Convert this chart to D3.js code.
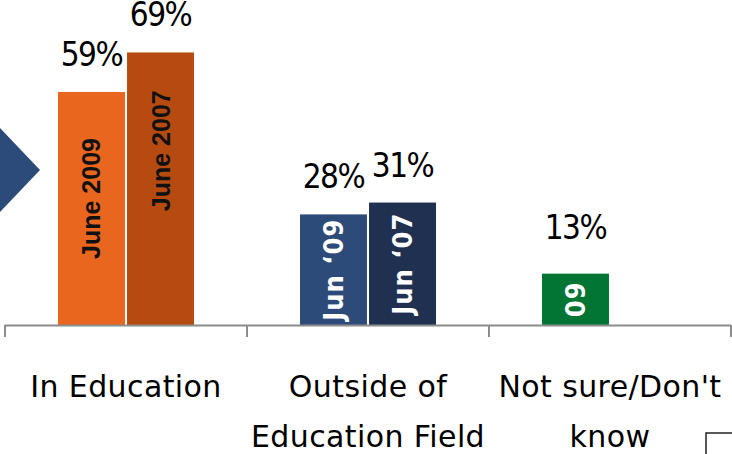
<!DOCTYPE html>
<html>
<head>
<meta charset="utf-8">
<script src="https://cdn.jsdelivr.net/npm/d3@7"></script>
<style>
  html, body { margin: 0; padding: 0; background: #fff; }
  svg { display: block; }
</style>
</head>
<body>
<svg id="chart" width="732" height="454"></svg>
<script>
// ---- data ----
const categories = ["In Education", "Outside of Education Field", "Not sure/Don't know"];
const categoryLines = [["In Education"], ["Outside of", "Education Field"], ["Not sure/Don't", "know"]];
const series = ["first", "second"];
const values2009 = [59, 28, 13];
const values2007 = [69, 31, null];
const barLabels2009 = ["June 2009", "Jun \u201809", "09"];
const barLabels2007 = ["June 2007", "Jun \u201807", null];
const valueLabels2009 = ["59%", "28%", "13%"];
const valueLabels2007 = ["69%", "31%", null];

// ---- styles ----
const fill2009 = ["#E9661F", "#2D4B79", "#027535"];
const fill2007 = ["#B64B11", "#1F3050", null];
const labelColor2009 = ["#111", "#fff", "#fff"];
const labelColor2007 = ["#111", "#fff", null];

const W = 732, H = 454;
const svg = d3.select("#chart");

// scales
const x0 = d3.scaleBand().domain(categories).range([5, 731]).padding(0);
const x1 = d3.scaleBand().domain(series).range([53, 189]).paddingInner(0.03).paddingOuter(0);
const y = d3.scaleLinear().domain([0, 100]).range([325, -70]);

// decoration: chevron on the left
svg.append("path")
  .attr("d", "M0,128 L40,170 L0,212 Z")
  .attr("fill", "#2C4B7B");

// bars
const bars = [];
categories.forEach((c, i) => {
  bars.push({cat: c, s: "first", v: values2009[i], fill: fill2009[i], label: barLabels2009[i], lc: labelColor2009[i], vl: valueLabels2009[i], i});
  if (values2007[i] != null)
    bars.push({cat: c, s: "second", v: values2007[i], fill: fill2007[i], label: barLabels2007[i], lc: labelColor2007[i], vl: valueLabels2007[i], i});
});

const g = svg.append("g");
g.selectAll("rect.bar").data(bars).join("rect")
  .attr("class", "bar")
  .attr("x", d => x0(d.cat) + x1(d.s))
  .attr("y", d => y(d.v))
  .attr("width", x1.bandwidth())
  .attr("height", d => y(0) - y(d.v))
  .attr("fill", d => d.fill);

// inside (rotated) labels
const insideShift = (d) => (d.i === 0 ? (d.s === "first" ? -10 : -38) : 0);
g.selectAll("text.inlab").data(bars).join("text")
  .attr("class", "inlab")
  .attr("transform", d => {
    const cx = x0(d.cat) + x1(d.s) + x1.bandwidth() / 2;
    const cy = (y(d.v) + y(0)) / 2 + insideShift(d);
    return `translate(${cx},${cy}) rotate(-90)`;
  })
  .attr("text-anchor", "middle")
  .attr("dy", "0.36em")
  .attr("fill", d => d.lc)
  .style("font-family", d => d.i === 0 ? "'Liberation Sans', Arial, sans-serif" : "'Liberation Sans Narrow', 'DejaVu Sans Condensed', sans-serif")
  .style("font-weight", "bold")
  .style("font-size", d => d.i === 0 ? "25px" : "27px")
  .style("letter-spacing", d => d.i === 0 ? "0px" : "1px")
  .text(d => d.label);

// value labels
const valueLift = (d) => (d.i === 2 ? 35 : 26);
g.selectAll("text.vlab").data(bars).join("text")
  .attr("class", "vlab")
  .attr("x", d => x0(d.cat) + x1(d.s) + x1.bandwidth() / 2)
  .attr("y", d => y(d.v) - valueLift(d))
  .attr("text-anchor", "middle")
  .attr("fill", "#000")
  .style("font-family", "'DejaVu Sans Condensed', 'DejaVu Sans', sans-serif")
  .style("font-size", "33px")
  .style("letter-spacing", "-1.5px")
  .text(d => d.vl);

// axis
const axisG = svg.append("g").attr("transform", `translate(0,${y(0)})`);
axisG.call(d3.axisBottom(x0).tickValues([]).tickSizeOuter(0).tickFormat(""));
axisG.select(".domain").remove();
axisG.append("line")
  .attr("x1", x0.range()[0]).attr("x2", x0.range()[1])
  .attr("y1", 0.5).attr("y2", 0.5)
  .attr("stroke", "#8C8C8C").attr("stroke-width", 2);
const edges = categories.map(c => x0(c)).concat([x0.range()[1]]);
axisG.selectAll("line.edge").data(edges).join("line")
  .attr("class", "edge")
  .attr("x1", d => d).attr("x2", d => d)
  .attr("y1", 0).attr("y2", 12)
  .attr("stroke", "#8C8C8C").attr("stroke-width", 2);

// category labels
const catG = svg.append("g");
categories.forEach((c, i) => {
  const t = catG.append("text")
    .attr("x", x0(c) + x0.bandwidth() / 2)
    .attr("y", 397)
    .attr("text-anchor", "middle")
    .attr("fill", "#000")
    .style("font-family", "'DejaVu Sans', sans-serif")
    .style("font-size", "30px")
    .style("letter-spacing", "0.4px");
  categoryLines[i].forEach((line, k) => {
    t.append("tspan")
      .attr("x", x0(c) + x0.bandwidth() / 2)
      .attr("dy", k === 0 ? 0 : 50)
      .text(line);
  });
});

// decoration: box corner bottom-right
svg.append("rect")
  .attr("x", 706).attr("y", 433)
  .attr("width", 60).attr("height", 60)
  .attr("fill", "#fff")
  .attr("stroke", "#222").attr("stroke-width", 1.5);
</script>
</body>
</html>
